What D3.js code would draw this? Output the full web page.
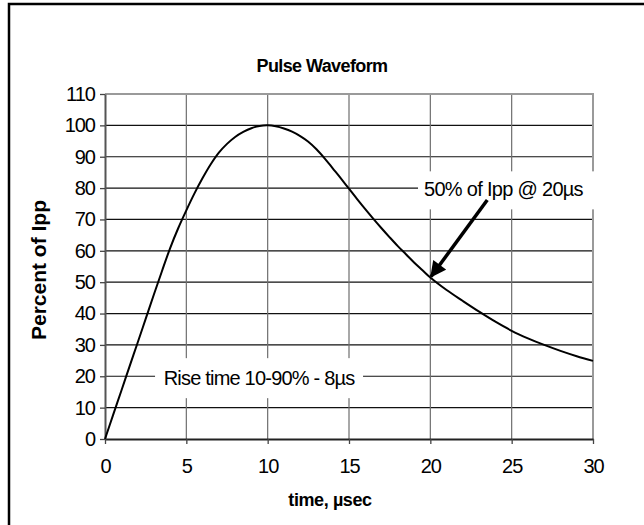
<!DOCTYPE html>
<html>
<head>
<meta charset="utf-8">
<script src="https://cdn.jsdelivr.net/npm/d3@7/dist/d3.min.js"></script>
<style>
  body { margin: 0; background: #fff; }
  text { font-family: "Liberation Sans", Arial, sans-serif; fill: #000; }
</style>
</head>
<body>
<svg id="chart"></svg>
<script>
// values
const times = [0, 0.5, 1, 1.5, 2, 2.5, 3, 3.5, 4, 4.5, 5, 5.5, 6, 6.5, 7, 7.5, 8, 8.5, 9, 9.5, 10,
  10.5, 11, 11.5, 12, 12.5, 13, 13.5, 14, 14.5, 15, 15.5, 16, 16.5, 17, 17.5, 18, 18.5, 19, 19.5, 20,
  21, 22, 23, 24, 25, 26, 27, 28, 29, 30];
const percents = [0, 7.7, 15.3, 23, 30.6, 38.3, 46, 53.5, 60.8, 67.2, 72.9, 78.3, 83.2, 87.6, 91.3, 94.1, 96.3, 97.9, 99.1, 99.8, 100,
  99.7, 99, 98, 96.6, 94.8, 92.4, 89.5, 86.3, 83.1, 79.8, 76.5, 73.3, 70.2, 67.2, 64.3, 61.5, 58.9, 56.3, 53.9, 51.5,
  47.5, 44, 40.6, 37.4, 34.5, 32.1, 30, 28.1, 26.4, 24.9];
const xTicks = [0, 5, 10, 15, 20, 25, 30];
const yTicks = [0, 10, 20, 30, 40, 50, 60, 70, 80, 90, 100, 110];

const chartTitle = 'Pulse Waveform';
const xTitle = 'time, \u00b5sec';
const yTitle = 'Percent of Ipp';
const riseLabel = 'Rise time 10-90% - 8\u00b5s';
const halfLabel = '50% of Ipp @ 20\u00b5s';

const width = 644, height = 525;
const margin = { top: 94, right: 51, bottom: 86, left: 105 };
const bodyWidth = width - margin.left - margin.right;
const bodyHeight = height - margin.top - margin.bottom;

const svg = d3.select('#chart')
  .attr('width', width)
  .attr('height', height);

// outer frame (left and top edges only show in the picture)
svg.append('path')
  .attr('d', `M9,${height} L9,4 L${width},4`)
  .style('fill', 'none')
  .style('stroke', '#000')
  .style('stroke-width', 2.5);

let xScale = d3.scaleLinear().domain([0, 30]).range([0, bodyWidth]);
let yScale = d3.scaleLinear().domain([0, 110]).range([bodyHeight, 0]);

let plot = svg.append('g')
  .attr('transform', `translate(${margin.left},${margin.top})`);

// gridlines
plot.append('g')
  .selectAll('line')
  .data(yTicks.filter(d => d > 0 && d < 110))
  .join('line')
  .attr('x1', 0).attr('x2', bodyWidth)
  .attr('y1', d => yScale(d)).attr('y2', d => yScale(d))
  .style('stroke', '#111')
  .style('stroke-width', 1.2);
plot.append('g')
  .selectAll('line')
  .data(xTicks.filter(d => d > 0 && d < 30))
  .join('line')
  .attr('y1', 0).attr('y2', bodyHeight)
  .attr('x1', d => xScale(d)).attr('x2', d => xScale(d))
  .style('stroke', '#6e6e6e')
  .style('stroke-width', 1.2);

// plot border top / right
plot.append('path')
  .attr('d', `M0,${yScale(110)} L${xScale(30)},${yScale(110)} L${xScale(30)},${yScale(0)}`)
  .style('fill', 'none')
  .style('stroke', '#9a9a9a')
  .style('stroke-width', 2);

// axes
let xAxis = plot.append('g')
  .attr('transform', `translate(0,${bodyHeight})`)
  .call(d3.axisBottom(xScale).tickValues(xTicks).tickSize(5).tickPadding(15).tickSizeOuter(0));
let yAxis = plot.append('g')
  .call(d3.axisLeft(yScale).tickValues(yTicks).tickSize(5).tickPadding(5).tickSizeOuter(0));
xAxis.select('.domain').style('stroke', '#222').style('stroke-width', 2);
yAxis.select('.domain').style('stroke', '#555').style('stroke-width', 2);
xAxis.selectAll('.tick line').style('stroke', '#444').style('stroke-width', 1.3);
yAxis.selectAll('.tick line').style('stroke', '#444').style('stroke-width', 1.3);
svg.selectAll('.tick text')
  .style('font-family', '"Liberation Sans", Arial, sans-serif')
  .style('font-size', '20px')
  .style('letter-spacing', '-1px')
  .attr('fill', '#000');

// annotation boxes (white background hides the grid behind the text)
let riseBox = plot.append('g')
  .attr('transform', `translate(${xScale(9.47)},${yScale(19.4)})`);
riseBox.append('rect')
  .attr('x', -104).attr('y', -20).attr('width', 208).attr('height', 40)
  .style('fill', '#fff');
riseBox.append('text')
  .attr('text-anchor', 'middle')
  .attr('dy', '0.35em')
  .style('font-size', '20px')
  .style('letter-spacing', '-0.8px')
  .text(riseLabel);

let halfBox = plot.append('g')
  .attr('transform', `translate(${xScale(19.55)},${yScale(79.6)})`);
halfBox.append('rect')
  .attr('x', -5).attr('y', -18).attr('width', 185).attr('height', 38)
  .style('fill', '#fff');
halfBox.append('text')
  .attr('x', 1)
  .attr('dy', '0.35em')
  .style('font-size', '20px')
  .style('letter-spacing', '-0.7px')
  .text(halfLabel);

// the pulse curve
let line = d3.line()
  .x(d => xScale(d[0]))
  .y(d => yScale(d[1]))
  .curve(d3.curveCatmullRom.alpha(0.5));
plot.append('path')
  .datum(times.map((t, i) => [t, percents[i]]))
  .attr('d', line)
  .style('fill', 'none')
  .style('stroke', '#000')
  .style('stroke-width', 2);

// arrow pointing at 50% @ 20us
svg.append('defs').append('marker')
  .attr('id', 'head')
  .attr('viewBox', '0 0 10 10')
  .attr('refX', 9).attr('refY', 5)
  .attr('markerWidth', 5.2).attr('markerHeight', 4.6)
  .attr('markerUnits', 'strokeWidth')
  .attr('orient', 'auto')
  .append('path')
  .attr('d', 'M0,0 L10,5 L0,10 Z')
  .style('fill', '#000');
plot.append('line')
  .attr('x1', xScale(23.5)).attr('y1', yScale(76.2))
  .attr('x2', xScale(20.05)).attr('y2', yScale(51.8))
  .style('stroke', '#000')
  .style('stroke-width', 3.5)
  .attr('marker-end', 'url(#head)');

// titles
svg.append('text')
  .attr('x', 322).attr('y', 72)
  .attr('text-anchor', 'middle')
  .style('font-size', '18px')
  .style('font-weight', 'bold')
  .style('letter-spacing', '-0.6px')
  .text(chartTitle);
svg.append('text')
  .attr('x', 330).attr('y', 506)
  .attr('text-anchor', 'middle')
  .style('font-size', '18px')
  .style('font-weight', 'bold')
  .style('letter-spacing', '-0.4px')
  .text(xTitle);
svg.append('text')
  .attr('transform', 'rotate(-90)')
  .attr('x', -270).attr('y', 46)
  .attr('text-anchor', 'middle')
  .style('font-size', '21px')
  .style('font-weight', 'bold')
  .text(yTitle);
</script>
</body>
</html>
